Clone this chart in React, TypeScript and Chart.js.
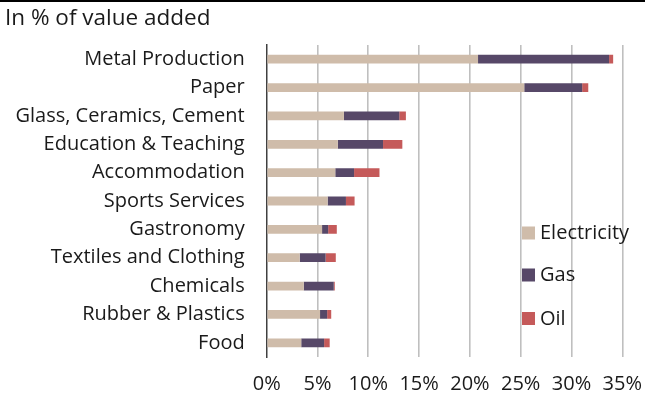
import React, { useEffect, useRef } from "react";
import { Chart, registerables } from "chart.js";

Chart.register(...registerables);

const categories = [
  "Metal Production",
  "Paper",
  "Glass, Ceramics, Cement",
  "Education & Teaching",
  "Accommodation",
  "Sports Services",
  "Gastronomy",
  "Textiles and Clothing",
  "Chemicals",
  "Rubber & Plastics",
  "Food",
];
const electricity = [20.8, 25.35, 7.6, 7.0, 6.75, 6.0, 5.45, 3.25, 3.65, 5.25, 3.4];
const gas = [12.9, 5.7, 5.45, 4.45, 1.85, 1.8, 0.6, 2.55, 2.95, 0.7, 2.25];
const oil = [0.4, 0.6, 0.65, 1.9, 2.5, 0.85, 0.85, 1.0, 0.1, 0.4, 0.55];
const xTicks = [0, 5, 10, 15, 20, 25, 30, 35];
const title = "In % of value added";
const seriesNames = ["Electricity", "Gas", "Oil"];
const seriesColors = ["#CFBCAA", "#574868", "#C55A5A"];

const FONT = "'Open Sans', 'Noto Sans', sans-serif";

const overlayPlugin = {
  id: "overlay",
  afterDraw(chart: any) {
    const ctx = chart.ctx;
    ctx.save();
    ctx.fillStyle = "#000";
    ctx.fillRect(0, 0, chart.width, 2);
    ctx.fillStyle = "#1a1a1a";
    ctx.font = `22.5px ${FONT}`;
    ctx.textAlign = "left";
    ctx.textBaseline = "middle";
    ctx.fillText(title, 5, 19);
    const ys = [233, 275, 318.5];
    ctx.font = `20px ${FONT}`;
    chart.data.datasets.forEach((ds: any, i: number) => {
      ctx.fillStyle = ds.backgroundColor;
      ctx.fillRect(522, ys[i] - 6.5, 13, 13);
      ctx.fillStyle = "#1a1a1a";
      ctx.fillText(ds.label, 540, ys[i] + 0.5);
    });
    ctx.restore();
  },
};

export default function App() {
  const ref = useRef<HTMLCanvasElement>(null);
  useEffect(() => {
    if (!ref.current) return;
    const mk = (label: string, data: number[], color: string) => ({
      label,
      data,
      backgroundColor: color,
      borderWidth: 0,
      barPercentage: 0.31,
      categoryPercentage: 1,
    });
    const chart = new Chart(ref.current, {
      type: "bar",
      data: {
        labels: categories,
        datasets: [
          mk(seriesNames[0], electricity, seriesColors[0]),
          mk(seriesNames[1], gas, seriesColors[1]),
          mk(seriesNames[2], oil, seriesColors[2]),
        ],
      },
      options: {
        indexAxis: "y",
        animation: false,
        responsive: false,
        layout: { padding: { top: 45, right: 22.7, left: 0, bottom: 0 } },
        plugins: {
          legend: { display: false },
          tooltip: { enabled: false },
          title: { display: false },
        },
        scales: {
          x: {
            stacked: true,
            min: 0,
            max: 35,
            afterBuildTicks: (s: any) => {
              s.ticks = xTicks.map((v) => ({ value: v }));
            },
            afterFit: (s: any) => {
              s.height = 41;
              s.paddingLeft = 0;
              s.paddingRight = 0;
            },
            ticks: {
              padding: 15,
              color: "#1a1a1a",
              font: { family: FONT, size: 20 },
              callback: (v: any) => `${v}%`,
              maxRotation: 0,
            },
            grid: {
              drawTicks: false,
              color: (c: any) => (c.index === 0 ? "rgba(0,0,0,0)" : "#BFBFBF"),
              lineWidth: 1.6,
            },
            border: { display: false },
          },
          y: {
            stacked: true,
            afterFit: (s: any) => {
              s.width = 266.7;
              s.paddingTop = 0;
              s.paddingBottom = 0;
            },
            ticks: {
              padding: 22,
              color: "#1a1a1a",
              font: { family: FONT, size: 20 },
              autoSkip: false,
            },
            grid: { display: false, drawTicks: false },
            border: { display: true, color: "#404040", width: 1.5 },
          },
        },
      },
      plugins: [overlayPlugin],
    });
    return () => chart.destroy();
  }, []);
  return (
    <div style={{ position: "fixed", left: 0, top: 0, width: 645, height: 398, background: "#fff" }}>
      <canvas ref={ref} width={645} height={398} style={{ display: "block" }} />
    </div>
  );
}
